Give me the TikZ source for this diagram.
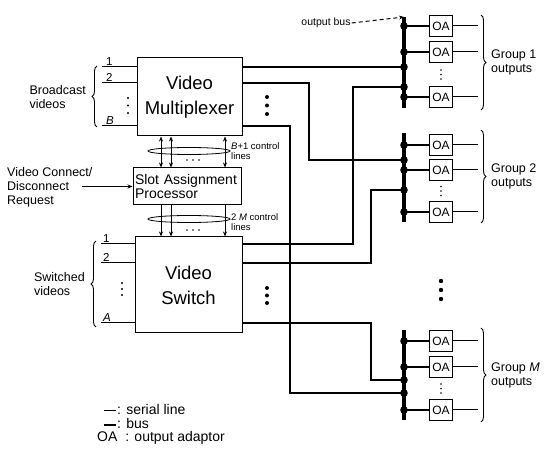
\documentclass[tikz,border=0pt]{standalone}
\usepackage{fontspec}
\setmainfont{Liberation Sans}
\usetikzlibrary{arrows.meta, positioning, calc, decorations.pathreplacing}

\begin{document}
\begin{tikzpicture}[x=1pt, y=1pt,
    blk/.style={draw, line width=1pt, align=center, inner sep=1pt},
    oabox/.style={draw, line width=0.9pt, minimum width=23pt, minimum height=21pt, inner sep=0pt, font=\fontsize{12}{12}\selectfont},
    serial/.style={line width=1pt},
    busln/.style={line width=2.8pt},
    busbar/.style={line width=3.2pt},
    ctlarr/.style={line width=1pt, -{Stealth[length=5pt, width=4pt]}},
    brc/.style={decorate, decoration={brace, amplitude=5pt}, line width=0.9pt},
    lbl/.style={font=\fontsize{12.5}{14}\selectfont, align=left, inner sep=0pt},
    numlbl/.style={font=\fontsize{11.5}{11.5}\selectfont, inner sep=0pt, anchor=south west},
    small/.style={font=\fontsize{9.5}{10.5}\selectfont, align=left, inner sep=0pt, anchor=west},
    lgd/.style={font=\fontsize{14}{13.5}\selectfont, align=left, inner sep=0pt, anchor=west},
]
\useasboundingbox (0,0) rectangle (555,-449);

    % Main blocks
    \node[blk, minimum width=105pt, minimum height=78pt, font=\fontsize{18.5}{25}\selectfont] (mux) at (189.5,-97) {Video\\Multiplexer};
    \node[blk, text width=104pt, align=left, inner sep=2pt, minimum height=37pt, font=\fontsize{14}{14.5}\selectfont] (sap) at (187,-186.5) {Slot Assignment\\Processor};
    \node[blk, minimum width=107pt, minimum height=96pt, font=\fontsize{18.5}{25}\selectfont] (sw) at (188.5,-285) {Video\\Switch};

    % Control lines
    \foreach \x in {161,171,225} {
        \draw[ctlarr, {Stealth[length=5pt, width=4pt]}-{Stealth[length=5pt, width=4pt]}] (\x,0 |- mux.south) -- (\x,0 |- sap.north);
        \draw[ctlarr] (\x,0 |- sap.south) -- (\x,0 |- sw.north);
    }
    \draw[line width=0.8pt] (189,-151) ellipse (41pt and 3.5pt);
    \draw[line width=0.8pt] (189,-219) ellipse (41pt and 3.5pt);
    \foreach \x in {187,193,199} {
        \fill (\x,-160) circle (0.9pt);
        \fill (\x,-230) circle (0.9pt);
    }
    \node[small] (ctlb) at (231,-151) {\textit{B}+1 control\\lines};
    \node[small] (ctlm) at (231,-222) {2 \textit{M} control\\lines};

    % Inputs
    \foreach \y/\t in {-67/1, -83/2, -126/\textit{B}} {
        \draw[serial] (mux.west |- 0,\y) -- ++(-35,0);
        \node[numlbl] at (106,\y+1.5) {\t};
    }
    \foreach \y/\t in {-244/1, -263/2, -323/\textit{A}} {
        \draw[serial] (sw.west |- 0,\y) -- ++(-34,0);
        \node[numlbl] at (103,\y+1.5) {\t};
    }
    \foreach \y in {-98,-105.5,-113} \fill (128,\y) circle (1.1pt);
    \foreach \y in {-283,-289,-295} \fill (122,\y) circle (1.1pt);

    \draw[brc] (97,-127) -- (97,-66);
    \node[lbl, anchor=east] (bcast) at (86,-97) {Broadcast\\videos};
    \draw[brc] (96,-327) -- (96,-241);
    \node[lbl, anchor=east] (swvid) at (85,-284) {Switched\\videos};

    \node[lbl, anchor=west] (vcr) at (7,-187) {Video Connect/\\Disconnect\\Request};
    \draw[serial, -{Stealth[length=5pt, width=4pt]}] ([xshift=-51pt]sap.west) -- (sap.west);

    % Output buses
    \foreach \g/\t/\b in {1/-17/-108, 2/-133/-222, M/-330/-420} {
        \coordinate (bus\g t) at (404,\t);
        \coordinate (bus\g b) at (404,\b);
        \draw[busbar] (bus\g t) -- (bus\g b);
    }

    % Wiring to the buses
    \draw[busln] (mux.east |- 0,-67) -- (bus1t |- 0,-67);
    \draw[busln] (mux.east |- 0,-83) -| (309,-160) -- (bus2t |- 0,-160);
    \draw[busln] (mux.east |- 0,-126) -| (290,-393) -- (busMt |- 0,-393);
    \draw[busln] (sw.east |- 0,-244) -| (353,-87) -- (bus1t |- 0,-87);
    \draw[busln] (sw.east |- 0,-263) -| (371,-190) -- (bus2t |- 0,-190);
    \draw[busln] (sw.east |- 0,-323) -| (371,-380) -- (busMt |- 0,-380);
    \foreach \g/\y in {1/-67, 1/-87, 2/-160, 2/-190, M/-380, M/-393}
        \fill (bus\g t |- 0,\y) circle (3.8pt);

    \foreach \y in {-97,-105.5,-114} \fill (267,\y) circle (2pt);
    \foreach \y in {-288,-295.5,-303} \fill (267,\y) circle (2pt);
    \foreach \y in {-281,-290,-299} \fill (441,\y) circle (2.2pt);

    % Output adaptors
    \foreach \g/\ya/\yb/\yc in {1/-26/-52/-97, 2/-145/-170/-212, M/-341/-367/-410} {
        \foreach \k/\y in {a/\ya, b/\yb, c/\yc} {
            \node[oabox] (oa\g\k) at (441,\y) {OA};
            \draw[busln] (bus\g t |- oa\g\k.west) -- (oa\g\k.west);
            \draw[serial] (oa\g\k.east) -- ++(25,0);
            \fill (bus\g t |- oa\g\k.west) circle (3.8pt);
        }
        \foreach \d in {-4.5,0,4.5}
            \fill (441,{(\yb+\yc)/2+\d}) circle (0.9pt);
    }

    \foreach \g/\t/\b/\txt in {1/-15/-110/1, 2/-130/-223/2, M/-328/-422/\textit{M}} {
        \draw[brc] (481,\t) -- (481,\b);
        \node[lbl, anchor=west] (grp\g) at (491,{(\t+\b)/2}) {Group \txt\\outputs};
    }

    \node[font=\fontsize{10.5}{10.5}\selectfont, inner sep=1pt] (obus) at (326,-23) {output bus};
    \draw[serial, dash pattern=on 4pt off 3pt, -{Stealth[length=5pt, width=4pt]}] (obus.east) -- (bus1t);

    % Legend
    \node[lgd] (legend) at (97,-424.5) {\hspace*{20pt}: serial line\\\hspace*{20pt}: bus\\OA\hspace*{8pt}: output adaptor};
    \draw[serial] ($(legend.west |- 0,-411)+(7,0)$) -- ++(12,0);
    \draw[line width=1.6pt] ($(legend.west |- 0,-425)+(7,0)$) -- ++(12,0);
\end{tikzpicture}
\end{document}
